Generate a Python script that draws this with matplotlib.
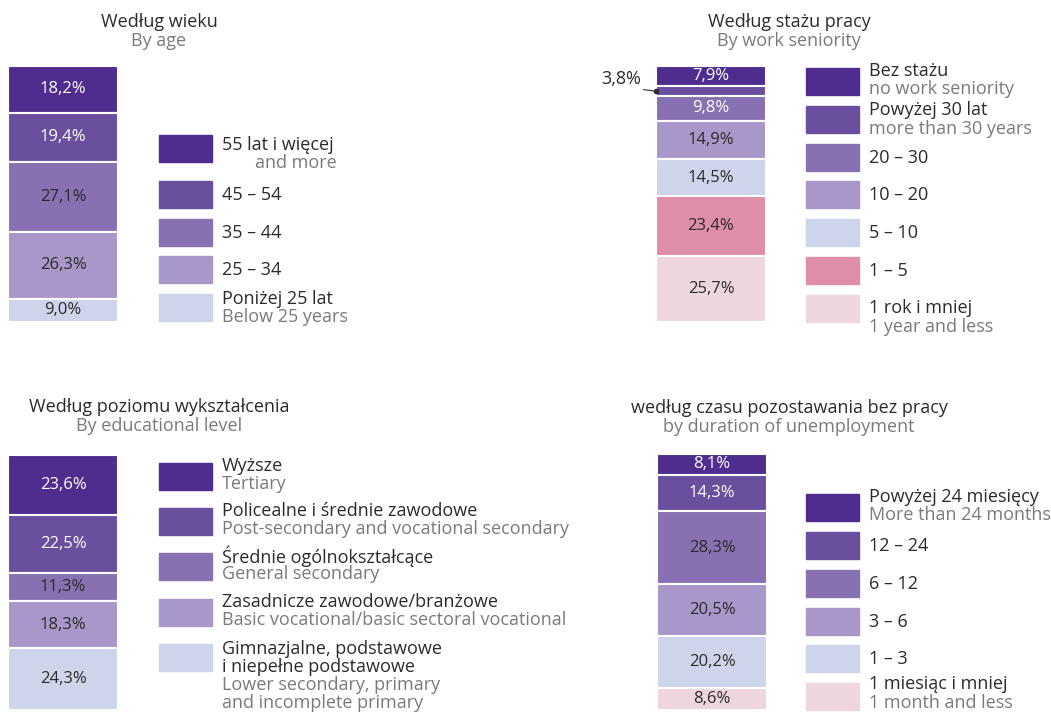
import matplotlib.pyplot as plt
from matplotlib.patches import Rectangle

plt.rcParams['font.family'] = ['Open Sans', 'DejaVu Sans']

# colours, dark to light
c_dark = '#4f2d8f'
c_2 = '#6a4f9e'
c_3 = '#8771b0'
c_4 = '#a897c8'
c_5 = '#ced5ea'
c_pink = '#de8fa7'
c_lpink = '#eed6df'

# data, listed from top of the bar to the bottom
age_values = [18.2, 19.4, 27.1, 26.3, 9.0]
age_colors = [c_dark, c_2, c_3, c_4, c_5]
age_pl = ['55 lat i więcej', '45 – 54', '35 – 44', '25 – 34', 'Poniżej 25 lat']
age_en = ['and more', '', '', '', 'Below 25 years']

sen_values = [7.9, 3.8, 9.8, 14.9, 14.5, 23.4, 25.7]
sen_colors = [c_dark, c_2, c_3, c_4, c_5, c_pink, c_lpink]
sen_pl = ['Bez stażu', 'Powyżej 30 lat', '20 – 30', '10 – 20', '5 – 10', '1 – 5', '1 rok i mniej']
sen_en = ['no work seniority', 'more than 30 years', '', '', '', '', '1 year and less']

edu_values = [23.6, 22.5, 11.3, 18.3, 24.3]
edu_colors = [c_dark, c_2, c_3, c_4, c_5]
edu_pl = ['Wyższe', 'Policealne i średnie zawodowe', 'Średnie ogólnokształcące',
          'Zasadnicze zawodowe/branżowe', 'Gimnazjalne, podstawowe\ni niepełne podstawowe']
edu_en = ['Tertiary', 'Post-secondary and vocational secondary', 'General secondary',
          'Basic vocational/basic sectoral vocational', 'Lower secondary, primary\nand incomplete primary']

une_values = [8.1, 14.3, 28.3, 20.5, 20.2, 8.6]
une_colors = [c_dark, c_2, c_3, c_4, c_5, c_lpink]
une_pl = ['Powyżej 24 miesięcy', '12 – 24', '6 – 12', '3 – 6', '1 – 3', '1 miesiąc i mniej']
une_en = ['More than 24 months', '', '', '', '', '1 month and less']

W, H = 1051, 713
fig = plt.figure(figsize=(W / 100, H / 100), dpi=100)

TXT = '#2b2b2b'
GRAY = '#7a7a7a'
FS = 13


def fx(x):
    return x / W


def fy(y):
    return 1 - y / H


def stacked_bar(x0, y0, x1, y1, values, colors, n_white, skip=()):
    ax = fig.add_axes([fx(x0), fy(y1), fx(x1 - x0), (y1 - y0) / H])
    top = sum(values)
    for i, (v, c) in enumerate(zip(values, colors)):
        bottom = top - sum(values[:i + 1])
        ax.bar(0, v, bottom=bottom, width=1, color=c, edgecolor='white', linewidth=1.5)
        if i in skip:
            continue
        ax.text(0, bottom + v / 2, f'{v:.1f}%'.replace('.', ','), ha='center', va='center',
                fontsize=12, color='white' if i < n_white else TXT)
    ax.set_xlim(-0.5, 0.5)
    ax.set_ylim(0, top)
    ax.axis('off')
    return ax


def title(xc, y, pl, en):
    fig.text(fx(xc), fy(y), pl, ha='center', va='center', fontsize=FS, color=TXT)
    fig.text(fx(xc), fy(y + 19), en, ha='center', va='center', fontsize=FS, color=GRAY)


def legend(x, ys, colors, pls, ens, first_off, step=18.5):
    for y, c, pl, en in zip(ys, colors, pls, ens):
        fig.patches.append(Rectangle((fx(x), fy(y + 27)), 53 / W, 27 / H, color=c,
                                     transform=fig.transFigure))
        lines = [(t, TXT) for t in pl.split('\n')]
        if en:
            lines += [(t, GRAY) for t in en.split('\n')]
        ty = y + (14 if len(lines) == 1 else first_off.get(pl, 3))
        for t, col in lines:
            if t == 'and more':
                fig.text(fx(337), fy(ty), t, ha='right', va='center', fontsize=FS, color=col)
            else:
                fig.text(fx(x + 63), fy(ty), t, va='center', fontsize=FS, color=col)
            ty += step


# --- by age
stacked_bar(8, 66, 118, 322, age_values, age_colors, 2)
title(159, 22, 'Według wieku', 'By age')
legend(159, [135, 181, 219, 256, 294], age_colors, age_pl, age_en,
       {'55 lat i więcej': 10, 'Poniżej 25 lat': 5})

# --- by seniority
ax = stacked_bar(656, 66, 766, 322, sen_values, sen_colors, 3, skip=(1,))
ymid = 100 - sen_values[0] - sen_values[1] / 2
ax.annotate('3,8%', xy=(-0.5, ymid), xytext=(-11, 9), textcoords='offset points',
            ha='right', va='center', fontsize=FS, color=TXT, annotation_clip=False,
            arrowprops=dict(arrowstyle='-', color=TXT, lw=0.8, shrinkA=0, shrinkB=0,
                            relpos=(0.6, 0)))
ax.plot(-0.5, ymid, 'o', color=TXT, ms=3, clip_on=False, zorder=5)
title(789, 22, 'Według stażu pracy', 'By work seniority')
legend(806, [68, 106, 144, 181, 219, 257, 295], sen_colors, sen_pl, sen_en,
       {'Bez stażu': 3, 'Powyżej 30 lat': 4, '1 rok i mniej': 13})

# --- by education
stacked_bar(8, 455, 118, 710, edu_values, edu_colors, 2)
title(159, 407, 'Według poziomu wykształcenia', 'By educational level')
legend(159, [463, 508, 553, 599, 644], edu_colors, edu_pl, edu_en,
       {'Gimnazjalne, podstawowe\ni niepełne podstawowe': 5}, step=18)

# --- by duration of unemployment
stacked_bar(657, 454, 767, 710, une_values, une_colors, 2)
title(789, 408, 'według czasu pozostawania bez pracy', 'by duration of unemployment')
legend(806, [494, 532, 570, 608, 645, 683], une_colors, une_pl, une_en,
       {'Powyżej 24 miesięcy': 3, '1 miesiąc i mniej': 1})

fig.savefig('out.png', dpi=100)
